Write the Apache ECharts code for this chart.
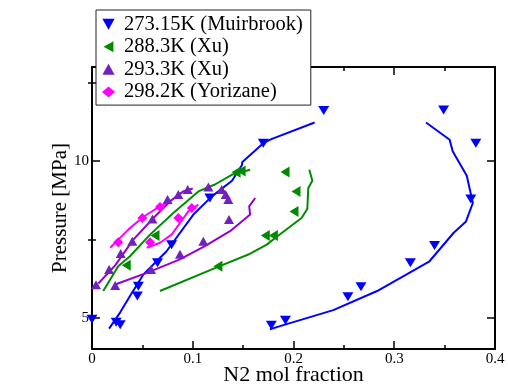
<!DOCTYPE html>
<html>
<head>
<meta charset="utf-8">
<script src="https://cdn.jsdelivr.net/npm/echarts@6/dist/echarts.min.js"></script>
<style>
  html, body { margin: 0; padding: 0; background: #fff; }
  #chart { width: 508px; height: 387px; }
</style>
</head>
<body>
<div id="chart"></div>
<script>
// N2 solubility: measured points and model curves at four temperatures.

// 273.15 K (Muirbrook) — measured
const muirbrookX = [0.000, 0.024, 0.028, 0.045, 0.046, 0.065, 0.079, 0.117, 0.170, 0.230,
                    0.349, 0.381, 0.376, 0.340, 0.316, 0.267, 0.254, 0.192, 0.178];
const muirbrookP = [4.95, 4.85, 4.77, 5.69, 6.00, 6.75, 7.33, 8.82, 10.57, 11.61,
                    11.63, 10.57, 8.79, 7.30, 6.75, 5.99, 5.67, 4.92, 4.76];
// 273.15 K model curves (two branches)
const blueCurveA = [[0.017, 4.65], [0.028, 5.17], [0.0377, 5.69], [0.051, 6.38], [0.074, 7.12],
                    [0.1006, 8.29], [0.119, 8.87], [0.139, 9.37], [0.149, 9.88], [0.149, 9.96],
                    [0.170, 10.57], [0.178, 10.70], [0.221, 11.23]];
const blueCurveB = [[0.1767, 4.63], [0.1866, 4.73], [0.2395, 5.24], [0.283, 5.85], [0.335, 6.80],
                    [0.359, 7.71], [0.371, 8.06], [0.378, 8.66], [0.372, 9.53], [0.358, 10.31],
                    [0.355, 10.68], [0.3315, 11.23]];

// 288.3 K (Xu) — measured
const xuLowX = [0.034, 0.0625, 0.143, 0.148, 0.125, 0.172, 0.180, 0.2005, 0.2025, 0.1916];
const xuLowP = [6.67, 7.62, 9.64, 9.68, 6.64, 7.62, 7.62, 8.39, 9.03, 9.65];
const greenCurveA = [[0.0112, 5.85], [0.026, 6.64], [0.0377, 6.96], [0.0576, 7.65], [0.0807, 8.34],
                     [0.1056, 9.03], [0.122, 9.25], [0.1387, 9.56], [0.157, 9.72]];
const greenCurveB = [[0.0675, 5.85], [0.125, 6.62], [0.157, 7.04], [0.1734, 7.33], [0.185, 7.62],
                     [0.208, 8.18], [0.2137, 8.47], [0.2147, 9.14], [0.2187, 9.37], [0.2157, 9.72]];

// 293.3 K (Xu) — measured
const xuHighX = [0.004, 0.023, 0.017, 0.0285, 0.040, 0.060, 0.075, 0.0857, 0.095, 0.1155,
                 0.1287, 0.1327, 0.1353, 0.136, 0.1105, 0.0873, 0.0586];
const xuHighP = [6.05, 6.03, 6.54, 7.05, 7.44, 8.15, 8.77, 8.93, 9.09, 9.17,
                 9.09, 8.93, 8.77, 8.13, 7.44, 7.02, 6.54];
const purpleCurveA = [[0.0063, 6.09], [0.023, 6.67], [0.041, 7.49], [0.061, 8.18], [0.0774, 8.71],
                      [0.0906, 9.03], [0.100, 9.12]];
const purpleCurveB = [[0.023, 6.06], [0.0543, 6.43], [0.0873, 6.86], [0.112, 7.28], [0.137, 7.76],
                      [0.157, 8.29], [0.156, 8.55], [0.162, 8.82]];

// 298.2 K (Yorizane) — measured
const yorizaneX = [0.026, 0.050, 0.0675, 0.0576, 0.0857, 0.099];
const yorizaneP = [7.41, 8.18, 8.53, 7.41, 8.18, 8.50];
const magentaCurveA = [[0.018, 7.23], [0.036, 7.81], [0.051, 8.22], [0.0675, 8.55], [0.0774, 8.71]];
const magentaCurveB = [[0.0543, 7.23], [0.0675, 7.39], [0.079, 7.65], [0.0873, 8.02], [0.0956, 8.39],
                       [0.1055, 8.61]];

// Axis ticks
const xMin = 0, xMax = 0.4, xStep = 0.1;
const yMin = 4, yMax = 13;
const yMajorTicks = [5, 10];
const yMinorTicks = [7.5, 12.5];

const seriesNames = ['273.15K (Muirbrook)', '288.3K (Xu)', '293.3K (Xu)', '298.2K (Yorizane)'];

const BLUE = '#0000ff', GREEN = '#008b00', INDIGO = '#7221bc', VIOLET = '#9400d3', MAGENTA = '#ff00ff';
const DOWN = 'path://M0,0 L10,0 L5,9 Z';
const LEFT = 'path://M9,0 L9,10 L0,5 Z';
const UP = 'path://M5,0 L10,9 L0,9 Z';

const zip = (xs, ys) => xs.map((x, i) => [x, ys[i]]);

function curve(name, data, color) {
  return {
    name, type: 'line', data, showSymbol: false, symbol: 'none', silent: true,
    lineStyle: { color, width: 2 }, z: 2, animation: false
  };
}
function points(name, data, symbol, size, color) {
  return {
    name, type: 'scatter', data, symbol, symbolSize: size, symbolKeepAspect: false,
    itemStyle: { color, opacity: 1 }, z: 3, animation: false
  };
}

const axisLine = { show: true, onZero: false, lineStyle: { color: '#000', width: 2 } };
const font = 'Liberation Serif, Times New Roman, serif';

const option = {
  animation: false,
  textStyle: { fontFamily: font },
  grid: { left: 92, right: 13, top: 67, bottom: 38, outerBoundsMode: 'none', containLabel: false },
  legend: {
    data: seriesNames,
    orient: 'vertical',
    left: 96, top: 10,
    padding: [3, 8, 2, 6],
    itemGap: 0.3,
    itemWidth: 13, itemHeight: 11,
    backgroundColor: '#fff',
    borderColor: '#222', borderWidth: 1,
    borderRadius: 0,
    textStyle: { fontSize: 20.5, lineHeight: 22.3, color: '#000', fontFamily: font, padding: [0, 0, 0, 4] },
    z: 10
  },
  xAxis: [
    {
      type: 'value', position: 'bottom', min: xMin, max: xMax, interval: xStep,
      name: 'N2 mol fraction', nameLocation: 'middle', nameGap: 15, nameMoveOverlap: false,
      nameTextStyle: { fontSize: 22, color: '#000', fontFamily: font },
      axisLine,
      axisTick: { show: true, inside: true, length: 8, lineStyle: { color: '#000', width: 1.5 } },
      minorTick: { show: true, splitNumber: 2, length: 4, lineStyle: { color: '#000', width: 1.5 } },
      axisLabel: { fontSize: 15, color: '#000', margin: 3, fontFamily: font },
      splitLine: { show: false }
    },
    {
      type: 'value', position: 'top', min: xMin, max: xMax, interval: xStep,
      axisLine,
      axisTick: { show: true, inside: true, length: 8, lineStyle: { color: '#000', width: 1.5 } },
      minorTick: { show: true, splitNumber: 2, length: 4, lineStyle: { color: '#000', width: 1.5 } },
      axisLabel: { show: false },
      splitLine: { show: false }
    }
  ],
  yAxis: [
    {
      type: 'value', position: 'left', min: yMin, max: yMax,
      name: 'Pressure [MPa]', nameLocation: 'middle', nameGap: 21, nameMoveOverlap: false,
      nameTextStyle: { fontSize: 21, color: '#000', fontFamily: font },
      axisLine,
      axisTick: { show: true, inside: true, length: 8, customValues: yMajorTicks,
                  lineStyle: { color: '#000', width: 1.5 } },
      axisLabel: { fontSize: 15, color: '#000', margin: 3, customValues: yMajorTicks, fontFamily: font },
      splitLine: { show: false }
    },
    {
      type: 'value', position: 'right', min: yMin, max: yMax,
      axisLine,
      axisTick: { show: true, inside: true, length: 8, customValues: yMajorTicks,
                  lineStyle: { color: '#000', width: 1.5 } },
      axisLabel: { show: false },
      splitLine: { show: false }
    },
    {
      type: 'value', position: 'left', min: yMin, max: yMax,
      axisLine: { show: false },
      axisTick: { show: true, inside: true, length: 4, customValues: yMinorTicks,
                  lineStyle: { color: '#000', width: 1.5 } },
      axisLabel: { show: false },
      splitLine: { show: false }
    },
    {
      type: 'value', position: 'right', min: yMin, max: yMax,
      axisLine: { show: false },
      axisTick: { show: true, inside: true, length: 4, customValues: yMinorTicks,
                  lineStyle: { color: '#000', width: 1.5 } },
      axisLabel: { show: false },
      splitLine: { show: false }
    }
  ],
  series: [
    curve('273.15K curve a', blueCurveA, BLUE),
    curve('273.15K curve b', blueCurveB, BLUE),
    curve('288.3K curve a', greenCurveA, GREEN),
    curve('288.3K curve b', greenCurveB, GREEN),
    curve('293.3K curve a', purpleCurveA, VIOLET),
    curve('293.3K curve b', purpleCurveB, VIOLET),
    curve('298.2K curve a', magentaCurveA, MAGENTA),
    curve('298.2K curve b', magentaCurveB, MAGENTA),
    points(seriesNames[0], zip(muirbrookX, muirbrookP), DOWN, [11, 9], BLUE),
    points(seriesNames[1], zip(xuLowX, xuLowP), LEFT, [9, 11], GREEN),
    points(seriesNames[2], zip(xuHighX, xuHighP), UP, [10, 9], INDIGO),
    points(seriesNames[3], zip(yorizaneX, yorizaneP), 'diamond', [10, 10], MAGENTA)
  ]
};

const chart = echarts.init(document.getElementById('chart'), null, { renderer: 'canvas' });
chart.setOption(option);
</script>
</body>
</html>
